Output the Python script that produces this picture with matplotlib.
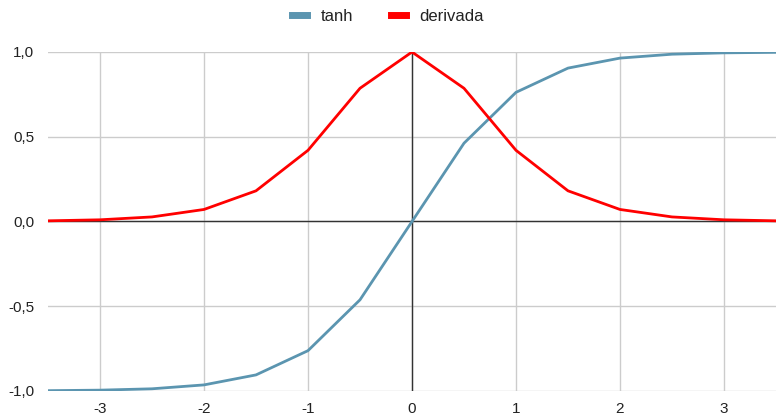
import matplotlib
matplotlib.use('Agg')
import matplotlib.pyplot as plt
from matplotlib.ticker import FuncFormatter

plt.rcParams['font.family'] = ['Liberation Sans', 'DejaVu Sans']
plt.rcParams['axes.unicode_minus'] = False

x = [-3.5, -3.0, -2.5, -2.0, -1.5, -1.0, -0.5, 0.0, 0.5, 1.0, 1.5, 2.0, 2.5, 3.0, 3.5]
tanh = [-0.998, -0.995, -0.987, -0.964, -0.905, -0.762, -0.462, 0.0,
        0.462, 0.762, 0.905, 0.964, 0.987, 0.995, 0.998]
derivada = [0.004, 0.010, 0.027, 0.071, 0.181, 0.420, 0.786, 1.0,
            0.786, 0.420, 0.181, 0.071, 0.027, 0.010, 0.004]
xticks = [-3, -2, -1, 0, 1, 2, 3]
yticks = [-1.0, -0.5, 0.0, 0.5, 1.0]

fig = plt.figure(figsize=(7.76, 4.17), dpi=100)
ax = fig.add_axes([48 / 776, 26 / 417, 728 / 776, 339 / 417])

ax.plot(x, tanh, color='#5b95b0', lw=2.0, label='tanh', zorder=3, solid_joinstyle='round')
ax.plot(x, derivada, color='#ff0000', lw=2.0, label='derivada', zorder=3, solid_joinstyle='round')

ax.set_xlim(-3.5, 3.5)
ax.set_ylim(-1.0, 1.0)
ax.set_xticks(xticks)
ax.set_yticks(yticks)
ax.yaxis.set_major_formatter(FuncFormatter(lambda v, p: f'{v:.1f}'.replace('.', ',')))
ax.grid(True, color='#cccccc', lw=1.0, zorder=0)
ax.axhline(0, color='#333333', lw=1.0, zorder=2)
ax.axvline(0, color='#333333', lw=1.0, zorder=2)

for s in ax.spines.values():
    s.set_visible(False)
ax.tick_params(length=0, labelsize=11, labelcolor='#222222')
ax.tick_params(axis='x', pad=8)
ax.tick_params(axis='y', pad=10)

leg = fig.legend(loc='upper center', bbox_to_anchor=(0.5, 1.015), ncol=2, frameon=False,
                 fontsize=12, handlelength=0.9, handletextpad=0.8, columnspacing=2.3)
for h in leg.get_lines():
    h.set_linewidth(5)
for t in leg.get_texts():
    t.set_color('#222222')

fig.savefig('out.png', dpi=100)
